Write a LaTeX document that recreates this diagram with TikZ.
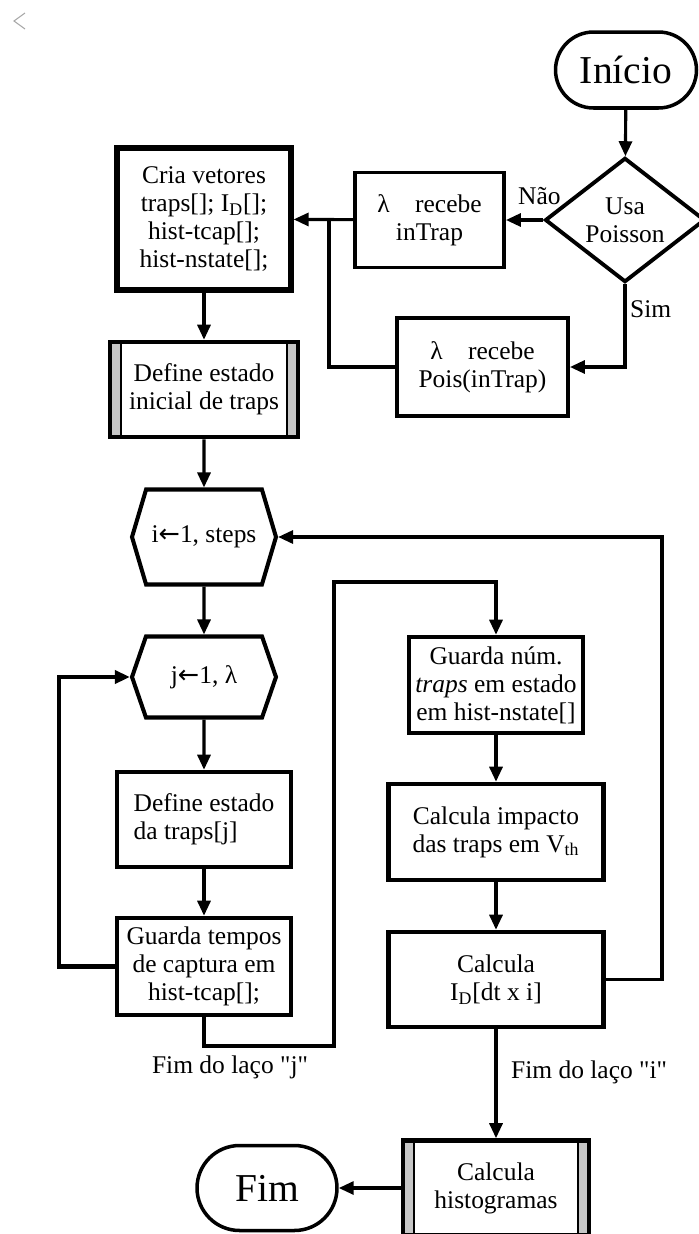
\documentclass[tikz,border=0pt]{standalone}
\usepackage{fontspec}
\setmainfont{Liberation Serif}
\newfontfamily\arrowfont{DejaVu Sans}
\usetikzlibrary{shapes.geometric,shapes.symbols,arrows.meta}

\begin{document}
\begin{tikzpicture}[x=0.02cm,y=-0.02cm,
  font=\fontsize{14.5pt}{16pt}\selectfont,
  box/.style={draw,line width=2.6pt,align=center,inner sep=2pt},
  term/.style={draw,line width=2pt,rounded corners=0.76cm,minimum width=2.82cm,minimum height=1.52cm,
    font=\fontsize{22.5pt}{26pt}\selectfont},
  decis/.style={draw,diamond,line width=2.2pt,minimum width=3.2cm,minimum height=2.4cm,inner sep=0pt,align=center},
  subproc/.style={box,path picture={
    \fill[gray!45] (path picture bounding box.north west) rectangle ([xshift=0.22cm]path picture bounding box.south west);
    \fill[gray!45] (path picture bounding box.north east) rectangle ([xshift=-0.22cm]path picture bounding box.south east);
    \draw[line width=0.9pt] ([xshift=0.22cm]path picture bounding box.north west) -- ([xshift=0.22cm]path picture bounding box.south west);
    \draw[line width=0.9pt] ([xshift=-0.22cm]path picture bounding box.north east) -- ([xshift=-0.22cm]path picture bounding box.south east);}},
  loophex/.style={draw,signal,signal to=west and east,line width=2.3pt,minimum width=2.88cm,inner sep=2pt},
  arr/.style={line width=1.8pt,-{Triangle[length=0.3cm,width=0.26cm]}},
  lnk/.style={line width=1.8pt},
  lbl/.style={inner sep=2pt}
]
\useasboundingbox (0,0) rectangle (699,1234);
\pgfmathsetmacro{\xl}{204}
\pgfmathsetmacro{\xr}{496}
\draw[gray!70,line width=0.6pt] (25,13) -- (14,21) -- (25,29);

% top part
\node[term] (ini) at (626,70) {Início};
\node[decis] (dec) at (625,220) {Usa\\Poisson};
\node[box,line width=2.2pt,minimum width=2.98cm,minimum height=1.9cm] (intrap) at (429.5,220) {λ\quad recebe\\inTrap};
\node[box,line width=2.2pt,minimum width=3.42cm,minimum height=1.96cm] (pois) at (482.5,367) {λ\quad recebe\\Pois(inTrap)};
\node[box,line width=3pt,minimum width=3.48cm,minimum height=2.84cm] (cria) at (\xl,219) {Cria vetores\\traps[]; I\textsubscript{D}[];\\hist-tcap[];\\hist-nstate[];};
\node[subproc,minimum width=3.76cm,minimum height=1.9cm] (defini) at (\xl,389.5) {Define estado\\inicial de traps};

% loops
\node[loophex,minimum height=1.9cm,signal pointer angle=147] (hexi) at (\xl,537) {i{\arrowfont ←}1, steps};
\node[loophex,minimum height=1.62cm,signal pointer angle=142] (hexj) at (\xl,677) {j{\arrowfont ←}1, λ};
\node[box,align=left,minimum width=3.48cm,minimum height=1.9cm] (defj) at (\xl,819.5) {Define estado\\da traps[j]};
\node[box,minimum width=3.48cm,minimum height=1.94cm] (guardat) at (\xl,966.5) {Guarda tempos\\de captura em\\hist-tcap[];};
\node[box,minimum width=3.48cm,minimum height=1.92cm] (guardan) at (\xr,685) {Guarda núm.\\\textit{traps} em estado\\em hist-nstate[]};
\node[box,minimum width=4.3cm,minimum height=1.92cm] (impacto) at (\xr,832) {Calcula impacto\\das traps em V\textsubscript{th}};
\node[box,minimum width=4.3cm,minimum height=1.9cm] (calcid) at (\xr,979.5) {Calcula\\I\textsubscript{D}[dt x i]};
\node[subproc,minimum width=3.72cm,minimum height=1.9cm] (hist) at (\xr,1188) {Calcula\\histogramas};
\node[term,rounded corners=0.85cm,minimum width=2.8cm,minimum height=1.7cm] (fim) at (267,1188) {Fim};

\coordinate (jn) at (329,220);
\coordinate (jl) at (59,677);
\coordinate (jb) at (334,1046);
\coordinate (jt) at (334,582);
\coordinate (ir) at (662,537);

\draw[arr] (ini) -- (dec);
\draw[arr] (dec.west) -- node[lbl,above=0.2cm,pos=0.1]{Não} (intrap.east);
\draw[arr] (dec.south) |- node[lbl,right,pos=0.15]{Sim} (pois.east);
\draw[arr] (intrap) -- (cria);
\draw[lnk] (pois.west) -| (jn);
\draw[arr] (cria) -- (defini);
\draw[arr] (defini) -- (hexi);
\draw[arr] (hexi) -- (hexj);
\draw[arr] (hexj) -- (defj);
\draw[arr] (defj) -- (guardat);
\draw[arr,line width=2.4pt] (guardat.west) -| (jl) -- (hexj.west);
\draw[arr] (guardat.south) |- node[lbl,below=0.1cm,pos=0.6]{Fim do laço \textquotedbl j\textquotedbl} (jb) -- (jt) -| (guardan.north);
\draw[arr] (guardan) -- (impacto);
\draw[arr] (impacto) -- (calcid);
\draw[arr] (calcid.east) -| (ir) -- (hexi.east);
\draw[arr] (calcid) -- node[lbl,right=0.2cm,pos=0.4]{Fim do laço \textquotedbl i\textquotedbl} (hist);
\draw[arr] (hist) -- (fim);
\end{tikzpicture}
\end{document}
